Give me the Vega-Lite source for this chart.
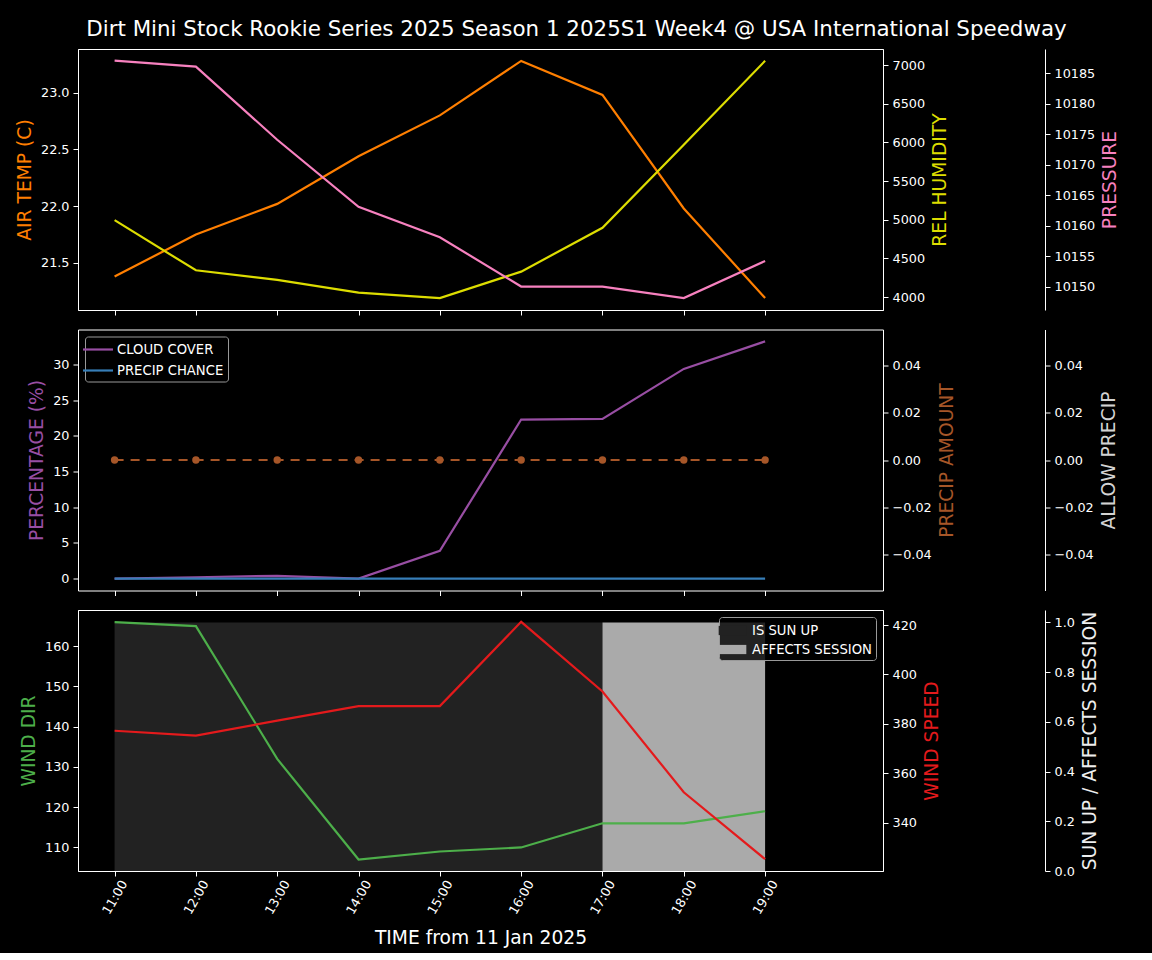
{
  "$schema": "https://vega.github.io/schema/vega-lite/v6.json",
  "background": "#000000",
  "padding": {"left": 15, "top": 19, "right": 32, "bottom": 5},
  "title": {"text": "Dirt Mini Stock Rookie Series 2025 Season 1 2025S1 Week4 @ USA International Speedway", "color": "#ffffff", "fontSize": 21.4, "font": "DejaVu Sans", "fontWeight": "normal", "anchor": "middle", "offset": 8, "dx": 9},
  "config": {
    "font": "DejaVu Sans",
    "view": {"stroke": "#ffffff", "strokeWidth": 1},
    "axis": {"labelColor": "#ffffff", "tickColor": "#ffffff", "domainColor": "#ffffff", "labelFont": "DejaVu Sans", "titleFont": "DejaVu Sans", "labelFontSize": 12.8, "titleFontSize": 18.7, "titleFontWeight": "normal", "grid": false, "tickSize": 5, "labelPadding": 4, "titlePadding": 6, "labelFlush": false, "labelOverlap": false},
    "legend": {"labelFont": "DejaVu Sans", "labelColor": "#ffffff", "labelFontSize": 13.2}
  },
  "spacing": 12.5,
  "resolve": {"scale": {"color": "independent"}, "legend": {"color": "independent"}},
  "datasets": {
    "p1": [
      {"time": "2025-01-11T11:00:00", "temp": 21.38, "humidity": 4995, "pressure": 10187.1},
      {"time": "2025-01-11T12:00:00", "temp": 21.75, "humidity": 4347, "pressure": 10186.1},
      {"time": "2025-01-11T13:00:00", "temp": 22.02, "humidity": 4223, "pressure": 10174.1},
      {"time": "2025-01-11T14:00:00", "temp": 22.44, "humidity": 4059, "pressure": 10163.1},
      {"time": "2025-01-11T15:00:00", "temp": 22.80, "humidity": 3987, "pressure": 10158.1},
      {"time": "2025-01-11T16:00:00", "temp": 23.28, "humidity": 4330, "pressure": 10150.0},
      {"time": "2025-01-11T17:00:00", "temp": 22.98, "humidity": 4896, "pressure": 10150.0},
      {"time": "2025-01-11T18:00:00", "temp": 21.98, "humidity": 5970, "pressure": 10148.1},
      {"time": "2025-01-11T19:00:00", "temp": 21.19, "humidity": 7054, "pressure": 10154.2}
    ],
    "p2pct": [
      {"time": "2025-01-11T11:00:00", "series": "CLOUD COVER", "pct": 0},
      {"time": "2025-01-11T12:00:00", "series": "CLOUD COVER", "pct": 0.2},
      {"time": "2025-01-11T13:00:00", "series": "CLOUD COVER", "pct": 0.4},
      {"time": "2025-01-11T14:00:00", "series": "CLOUD COVER", "pct": 0},
      {"time": "2025-01-11T15:00:00", "series": "CLOUD COVER", "pct": 3.9},
      {"time": "2025-01-11T16:00:00", "series": "CLOUD COVER", "pct": 22.3},
      {"time": "2025-01-11T17:00:00", "series": "CLOUD COVER", "pct": 22.4},
      {"time": "2025-01-11T18:00:00", "series": "CLOUD COVER", "pct": 29.4},
      {"time": "2025-01-11T19:00:00", "series": "CLOUD COVER", "pct": 33.26},
      {"time": "2025-01-11T11:00:00", "series": "PRECIP CHANCE", "pct": 0},
      {"time": "2025-01-11T12:00:00", "series": "PRECIP CHANCE", "pct": 0},
      {"time": "2025-01-11T13:00:00", "series": "PRECIP CHANCE", "pct": 0},
      {"time": "2025-01-11T14:00:00", "series": "PRECIP CHANCE", "pct": 0},
      {"time": "2025-01-11T15:00:00", "series": "PRECIP CHANCE", "pct": 0},
      {"time": "2025-01-11T16:00:00", "series": "PRECIP CHANCE", "pct": 0},
      {"time": "2025-01-11T17:00:00", "series": "PRECIP CHANCE", "pct": 0},
      {"time": "2025-01-11T18:00:00", "series": "PRECIP CHANCE", "pct": 0},
      {"time": "2025-01-11T19:00:00", "series": "PRECIP CHANCE", "pct": 0}
    ],
    "p2amt": [
      {"time": "2025-01-11T11:00:00", "precip_amount": 0, "allow_precip": 0},
      {"time": "2025-01-11T12:00:00", "precip_amount": 0, "allow_precip": 0},
      {"time": "2025-01-11T13:00:00", "precip_amount": 0, "allow_precip": 0},
      {"time": "2025-01-11T14:00:00", "precip_amount": 0, "allow_precip": 0},
      {"time": "2025-01-11T15:00:00", "precip_amount": 0, "allow_precip": 0},
      {"time": "2025-01-11T16:00:00", "precip_amount": 0, "allow_precip": 0},
      {"time": "2025-01-11T17:00:00", "precip_amount": 0, "allow_precip": 0},
      {"time": "2025-01-11T18:00:00", "precip_amount": 0, "allow_precip": 0},
      {"time": "2025-01-11T19:00:00", "precip_amount": 0, "allow_precip": 0}
    ],
    "p3": [
      {"time": "2025-01-11T11:00:00", "wind_dir": 166, "wind_speed": 377.2},
      {"time": "2025-01-11T12:00:00", "wind_dir": 165, "wind_speed": 375.2},
      {"time": "2025-01-11T13:00:00", "wind_dir": 132, "wind_speed": 381.3},
      {"time": "2025-01-11T14:00:00", "wind_dir": 107, "wind_speed": 387.2},
      {"time": "2025-01-11T15:00:00", "wind_dir": 109, "wind_speed": 387.2},
      {"time": "2025-01-11T16:00:00", "wind_dir": 110, "wind_speed": 421.3},
      {"time": "2025-01-11T17:00:00", "wind_dir": 116, "wind_speed": 393.1},
      {"time": "2025-01-11T18:00:00", "wind_dir": 116, "wind_speed": 352.3},
      {"time": "2025-01-11T19:00:00", "wind_dir": 119, "wind_speed": 325.2}
    ],
    "p3sun": [
      {"start": "2025-01-11T11:00:00", "end": "2025-01-11T17:00:00", "kind": "IS SUN UP", "value": 1},
      {"start": "2025-01-11T17:00:00", "end": "2025-01-11T19:00:00", "kind": "AFFECTS SESSION", "value": 1}
    ]
  },
  "vconcat": [
    {
      "width": 805,
      "height": 261,
      "data": {"name": "p1"},
      "encoding": {
        "x": {"field": "time", "type": "temporal",
          "scale": {"domain": [{"year": 2025, "month": 1, "date": 11, "hours": 10, "minutes": 33}, {"year": 2025, "month": 1, "date": 11, "hours": 20, "minutes": 27}]},
          "axis": {"title": null, "labels": false, "domain": false, "values": [
            {"year": 2025, "month": 1, "date": 11, "hours": 11}, {"year": 2025, "month": 1, "date": 11, "hours": 12}, {"year": 2025, "month": 1, "date": 11, "hours": 13},
            {"year": 2025, "month": 1, "date": 11, "hours": 14}, {"year": 2025, "month": 1, "date": 11, "hours": 15}, {"year": 2025, "month": 1, "date": 11, "hours": 16},
            {"year": 2025, "month": 1, "date": 11, "hours": 17}, {"year": 2025, "month": 1, "date": 11, "hours": 18}, {"year": 2025, "month": 1, "date": 11, "hours": 19}]}}
      },
      "layer": [
        {"mark": {"type": "line", "color": "#ff7f00", "strokeWidth": 2.2},
         "encoding": {"y": {"field": "temp", "type": "quantitative", "scale": {"domain": [21.085, 23.385], "nice": false, "zero": false},
           "axis": {"orient": "left", "title": "AIR TEMP (C)", "titleColor": "#ff7f00", "values": [21.5, 22.0, 22.5, 23.0], "format": ".1f"}}}},
        {"mark": {"type": "line", "color": "#dddd00", "strokeWidth": 2.2},
         "encoding": {"y": {"field": "humidity", "type": "quantitative", "scale": {"domain": [3834, 7207], "nice": false, "zero": false},
           "axis": {"orient": "right", "title": "REL HUMIDITY", "titleColor": "#dddd00", "titleAngle": -90, "titleBaseline": "top", "values": [4000, 4500, 5000, 5500, 6000, 6500, 7000], "format": "d"}}}},
        {"mark": {"type": "line", "color": "#f781bf", "strokeWidth": 2.2},
         "encoding": {"y": {"field": "pressure", "type": "quantitative", "scale": {"domain": [10146.15, 10189.0], "nice": false, "zero": false},
           "axis": {"orient": "right", "offset": 162, "title": "PRESSURE", "titleColor": "#f781bf", "titleAngle": -90, "titleBaseline": "top", "values": [10150, 10155, 10160, 10165, 10170, 10175, 10180, 10185], "format": "d"}}}}
      ],
      "resolve": {"scale": {"y": "independent"}, "axis": {"y": "independent"}}
    },
    {
      "width": 805,
      "height": 261,
      "encoding": {
        "x": {"field": "time", "type": "temporal",
          "scale": {"domain": [{"year": 2025, "month": 1, "date": 11, "hours": 10, "minutes": 33}, {"year": 2025, "month": 1, "date": 11, "hours": 20, "minutes": 27}]},
          "axis": {"title": null, "labels": false, "domain": false, "values": [
            {"year": 2025, "month": 1, "date": 11, "hours": 11}, {"year": 2025, "month": 1, "date": 11, "hours": 12}, {"year": 2025, "month": 1, "date": 11, "hours": 13},
            {"year": 2025, "month": 1, "date": 11, "hours": 14}, {"year": 2025, "month": 1, "date": 11, "hours": 15}, {"year": 2025, "month": 1, "date": 11, "hours": 16},
            {"year": 2025, "month": 1, "date": 11, "hours": 17}, {"year": 2025, "month": 1, "date": 11, "hours": 18}, {"year": 2025, "month": 1, "date": 11, "hours": 19}]}}
      },
      "layer": [
        {"data": {"name": "p2pct"},
         "mark": {"type": "line", "strokeWidth": 2.2},
         "encoding": {
           "y": {"field": "pct", "type": "quantitative", "scale": {"domain": [-1.66, 34.92], "nice": false, "zero": false},
             "axis": {"orient": "left", "title": "PERCENTAGE (%)", "titleColor": "#984ea3", "values": [0, 5, 10, 15, 20, 25, 30], "format": "d"}},
           "color": {"field": "series", "type": "nominal", "scale": {"domain": ["CLOUD COVER", "PRECIP CHANCE"], "range": ["#984ea3", "#377eb8"]},
             "legend": {"title": null, "orient": "top-left", "offset": 7, "fillColor": "rgba(0,0,0,0.8)", "strokeColor": "#999999", "cornerRadius": 3, "padding": 4,
               "symbolType": "M-2,0H2", "symbolSize": 225, "symbolStrokeWidth": 2.2, "labelOffset": 10, "rowPadding": 5, "labelExpr": "datum.label + '\u00a0\u00a0\u00a0'"}}
         }},
        {"data": {"name": "p2amt"},
         "layer": [
           {"mark": {"type": "line", "color": "#a65628", "strokeWidth": 2.2, "strokeDash": [9, 7]},
            "encoding": {"y": {"field": "precip_amount", "type": "quantitative", "scale": {"domain": [-0.055, 0.055], "nice": false, "zero": false},
              "axis": {"orient": "right", "title": "PRECIP AMOUNT", "titleColor": "#a65628", "titleAngle": -90, "titleBaseline": "top", "values": [-0.04, -0.02, 0, 0.02, 0.04], "format": ".2f"}}}},
           {"mark": {"type": "point", "filled": true, "color": "#a65628", "size": 55, "opacity": 1},
            "encoding": {"y": {"field": "precip_amount", "type": "quantitative"}}}
         ]},
        {"data": {"name": "p2amt"},
         "mark": {"type": "line", "color": "#d3d3d3", "strokeWidth": 2, "opacity": 0},
         "encoding": {"y": {"field": "allow_precip", "type": "quantitative", "scale": {"domain": [-0.055, 0.055], "nice": false, "zero": false},
           "axis": {"orient": "right", "offset": 162, "title": "ALLOW PRECIP", "titleColor": "#d3d3d3", "titleAngle": -90, "titleBaseline": "top", "values": [-0.04, -0.02, 0, 0.02, 0.04], "format": ".2f"}}}}
      ],
      "resolve": {"scale": {"y": "independent"}, "axis": {"y": "independent"}}
    },
    {
      "width": 805,
      "height": 261,
      "encoding": {
        "x": {"field": "time", "type": "temporal",
          "scale": {"domain": [{"year": 2025, "month": 1, "date": 11, "hours": 10, "minutes": 33}, {"year": 2025, "month": 1, "date": 11, "hours": 20, "minutes": 27}]},
          "axis": {"title": "TIME from 11 Jan 2025", "titleColor": "#ffffff", "titlePadding": 12, "domain": false, "format": "%H:%M", "labelAngle": -60, "labelAlign": "center", "labelBaseline": "middle", "labelPadding": 21, "values": [
            {"year": 2025, "month": 1, "date": 11, "hours": 11}, {"year": 2025, "month": 1, "date": 11, "hours": 12}, {"year": 2025, "month": 1, "date": 11, "hours": 13},
            {"year": 2025, "month": 1, "date": 11, "hours": 14}, {"year": 2025, "month": 1, "date": 11, "hours": 15}, {"year": 2025, "month": 1, "date": 11, "hours": 16},
            {"year": 2025, "month": 1, "date": 11, "hours": 17}, {"year": 2025, "month": 1, "date": 11, "hours": 18}, {"year": 2025, "month": 1, "date": 11, "hours": 19}]}}
      },
      "layer": [
        {"data": {"name": "p3sun"},
         "mark": {"type": "rect", "opacity": 1},
         "encoding": {
           "x": {"field": "start", "type": "temporal"},
           "x2": {"field": "end"},
           "y": {"field": "value", "type": "quantitative", "scale": {"domain": [0, 1.05], "nice": false, "zero": false},
             "axis": {"orient": "right", "offset": 162, "title": "SUN UP / AFFECTS SESSION", "titleColor": "#eeeeee", "titleAngle": -90, "titleBaseline": "top", "values": [0, 0.2, 0.4, 0.6, 0.8, 1.0], "format": ".1f"}},
           "y2": {"datum": 0},
           "color": {"field": "kind", "type": "nominal", "scale": {"domain": ["IS SUN UP", "AFFECTS SESSION"], "range": ["#222222", "#aaaaaa"]},
             "legend": {"title": null, "orient": "top-right", "offset": 7, "fillColor": "rgba(0,0,0,0.8)", "strokeColor": "#999999", "cornerRadius": 3, "padding": 4,
               "symbolType": "M-1.5,-0.5H1.5V0.5H-1.5Z", "symbolSize": 340, "symbolStrokeWidth": 0, "labelOffset": 10, "rowPadding": 3, "labelExpr": "datum.label + '\u00a0\u00a0\u00a0'"}}
         }},
        {"data": {"name": "p3"},
         "mark": {"type": "line", "color": "#4daf4a", "strokeWidth": 2.2},
         "encoding": {"y": {"field": "wind_dir", "type": "quantitative", "scale": {"domain": [104.15, 169.0], "nice": false, "zero": false},
           "axis": {"orient": "left", "title": "WIND DIR", "titleColor": "#4daf4a", "values": [110, 120, 130, 140, 150, 160], "format": "d"}}}},
        {"data": {"name": "p3"},
         "mark": {"type": "line", "color": "#e41a1c", "strokeWidth": 2.2},
         "encoding": {"y": {"field": "wind_speed", "type": "quantitative", "scale": {"domain": [320.4, 426.1], "nice": false, "zero": false},
           "axis": {"orient": "right", "title": "WIND SPEED", "titleColor": "#e41a1c", "titleAngle": -90, "titleBaseline": "top", "values": [340, 360, 380, 400, 420], "format": "d"}}}}
      ],
      "resolve": {"scale": {"y": "independent"}, "axis": {"y": "independent"}}
    }
  ]
}
